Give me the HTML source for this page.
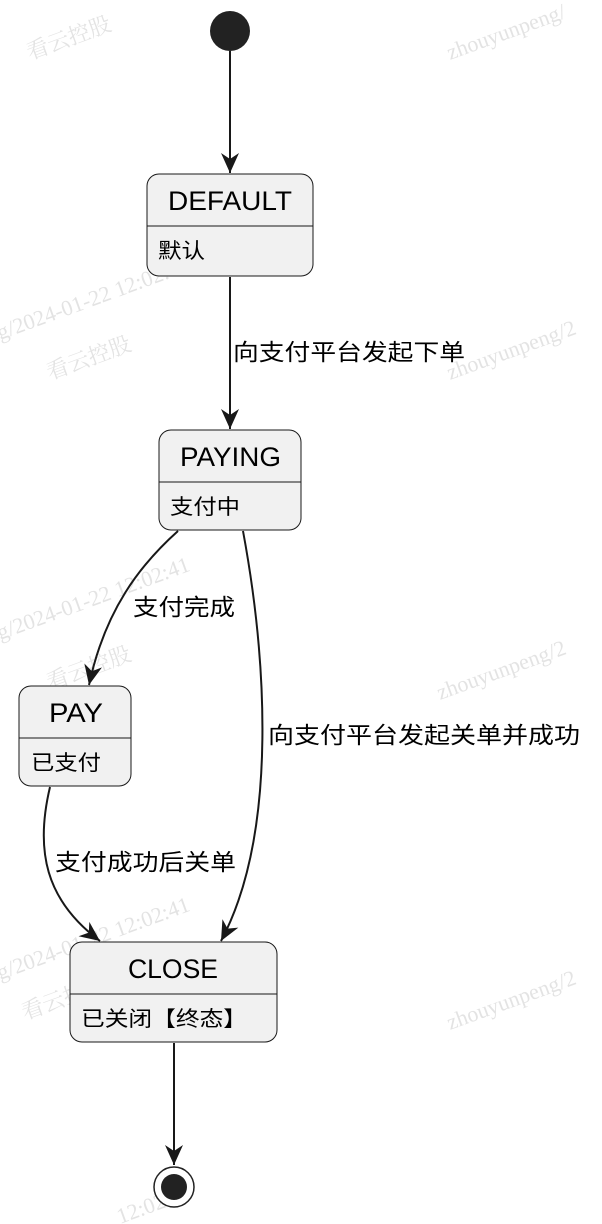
<!DOCTYPE html>
<html><head><meta charset="utf-8"><style>
body{margin:0;background:#fff;}
svg{display:block;font-family:"Liberation Sans","Noto Sans CJK SC",sans-serif;}
</style></head><body>
<svg width="602" height="1224" viewBox="0 0 602 1224" xmlns="http://www.w3.org/2000/svg">
<defs>
<marker id="a" markerWidth="24" markerHeight="24" refX="20" refY="10" orient="auto" markerUnits="userSpaceOnUse">
<path d="M0,1 L20,10 L0,19 L6,10 Z" fill="#181818"/>
</marker>
</defs>
<g fill="#ddd" font-size="22" font-family="Liberation Serif,Noto Serif CJK SC,serif" opacity="0.8">
<text transform="translate(30,60) rotate(-20)">看云控股</text>
<text transform="translate(450,60) rotate(-20)">zhouyunpeng/</text>
<text transform="translate(0,340) rotate(-20)">g/2024-01-22 12:02:41</text>
<text transform="translate(50,380) rotate(-20)">看云控股</text>
<text transform="translate(450,380) rotate(-20)">zhouyunpeng/2</text>
<text transform="translate(0,640) rotate(-20)">g/2024-01-22 12:02:41</text>
<text transform="translate(50,690) rotate(-20)">看云控股</text>
<text transform="translate(440,700) rotate(-20)">zhouyunpeng/2</text>
<text transform="translate(0,980) rotate(-20)">g/2024-01-22 12:02:41</text>
<text transform="translate(25,1020) rotate(-20)">看云控股</text>
<text transform="translate(450,1030) rotate(-20)">zhouyunpeng/2</text>
<text transform="translate(120,1224) rotate(-20)">12:02:41</text>
</g>
<circle cx="230" cy="31" r="20" fill="#222"/>
<g stroke="#181818" stroke-width="2" fill="none" marker-end="url(#a)">
<line x1="230" y1="51" x2="230" y2="173"/>
<line x1="230" y1="277" x2="230" y2="429"/>
<path d="M178,531 C140,565 105,610 89,685"/>
<path d="M243,531 C265,650 280,830 221,941"/>
<path d="M50,787 C35,850 45,900 100,941"/>
<line x1="174" y1="1043" x2="174" y2="1165"/>
</g>
<g fill="#f1f1f1" stroke="#181818" stroke-width="1">
<rect x="147" y="174" width="166" height="102" rx="12"/>
<rect x="159" y="430" width="142" height="100" rx="12"/>
<rect x="19" y="686" width="112" height="100" rx="12"/>
<rect x="70" y="942" width="207" height="100" rx="12"/>
</g>
<g stroke="#181818" stroke-width="1">
<line x1="147" y1="226" x2="313" y2="226"/>
<line x1="159" y1="482" x2="301" y2="482"/>
<line x1="19" y1="738" x2="131" y2="738"/>
<line x1="70" y1="994" x2="277" y2="994"/>
</g>
<g fill="#000">
<text x="168" y="210" font-size="27" textLength="124" lengthAdjust="spacingAndGlyphs">DEFAULT</text>
<text x="158" y="258" font-size="21" textLength="47" lengthAdjust="spacingAndGlyphs">默认</text>
<text x="180" y="466" font-size="27" textLength="101" lengthAdjust="spacingAndGlyphs">PAYING</text>
<text x="170" y="514" font-size="21" textLength="70" lengthAdjust="spacingAndGlyphs">支付中</text>
<text x="49" y="722" font-size="27" textLength="54" lengthAdjust="spacingAndGlyphs">PAY</text>
<text x="31" y="770" font-size="21" textLength="70" lengthAdjust="spacingAndGlyphs">已支付</text>
<text x="128" y="978" font-size="27" textLength="90" lengthAdjust="spacingAndGlyphs">CLOSE</text>
<text x="81" y="1026" font-size="21" textLength="166" lengthAdjust="spacingAndGlyphs">已关闭【终态】</text>
<text x="233" y="360" font-size="23" textLength="232" lengthAdjust="spacingAndGlyphs">向支付平台发起下单</text>
<text x="133" y="615" font-size="23" textLength="102" lengthAdjust="spacingAndGlyphs">支付完成</text>
<text x="268" y="743" font-size="23" textLength="312" lengthAdjust="spacingAndGlyphs">向支付平台发起关单并成功</text>
<text x="55" y="870" font-size="23" textLength="181" lengthAdjust="spacingAndGlyphs">支付成功后关单</text>
</g>
<circle cx="174" cy="1187" r="20" fill="#fff" stroke="#222" stroke-width="1.5"/>
<circle cx="174" cy="1187" r="13" fill="#222"/>
</svg>
</body></html>
